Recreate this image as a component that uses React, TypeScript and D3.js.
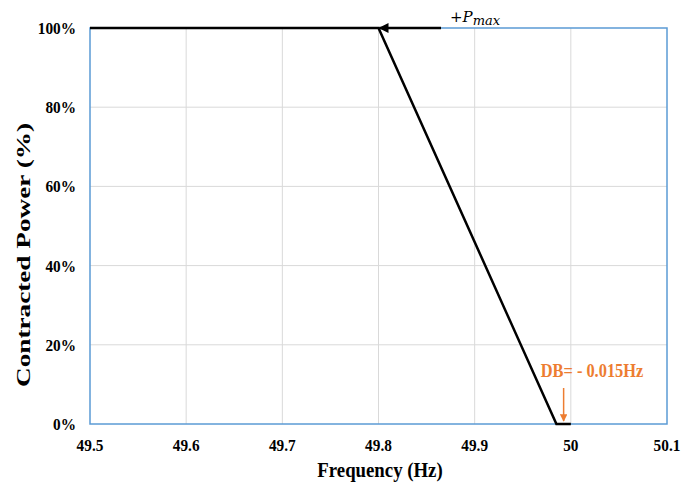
import React from "react";
import * as d3 from "d3";

const xTicks = [49.5, 49.6, 49.7, 49.8, 49.9, 50, 50.1];
const yTicks = [0, 20, 40, 60, 80, 100];
const freq = [49.5, 49.8, 49.985, 50];
const power = [100, 100, 0, 0];

const W = 684;
const H = 485;
const m = { left: 90, right: 667, top: 28, bottom: 424 };

export default function App() {
  const x = d3.scaleLinear().domain([49.5, 50.1]).range([m.left, m.right]);
  const y = d3.scaleLinear().domain([0, 100]).range([m.bottom, m.top]);
  const pts: [number, number][] = freq.map((f, i) => [f, power[i]]);
  const line = d3
    .line<[number, number]>()
    .x((d) => x(d[0]))
    .y((d) => y(d[1]));
  const font = "'Liberation Serif', 'Times New Roman', serif";
  const blue = "#5B9BD5";
  const orange = "#ED7D31";
  const dbX = x(49.9925);
  const sx = 0.9;
  return (
    <svg width={W} height={H} style={{ position: "absolute", left: 0, top: 0 }}>
      <defs>
        <marker id="ah" viewBox="0 0 10 10" refX="9" refY="5" markerWidth="5" markerHeight="4" orient="auto" markerUnits="strokeWidth">
          <path d="M0,0 L10,5 L0,10 z" fill="#000" />
        </marker>
        <marker id="ahO" viewBox="0 0 10 10" refX="9" refY="5" markerWidth="6" markerHeight="5" orient="auto" markerUnits="strokeWidth">
          <path d="M0,0 L10,5 L0,10 z" fill={orange} />
        </marker>
      </defs>
      <rect x={0} y={0} width={W} height={H} fill="#fff" />
      {xTicks.slice(1, -1).map((t) => (
        <line key={"gx" + t} x1={x(t)} x2={x(t)} y1={m.top} y2={m.bottom} stroke="#d9d9d9" strokeWidth={1} />
      ))}
      {yTicks.slice(1, -1).map((t) => (
        <line key={"gy" + t} x1={m.left} x2={m.right} y1={y(t)} y2={y(t)} stroke="#d9d9d9" strokeWidth={1} />
      ))}
      <rect x={m.left} y={m.top} width={m.right - m.left} height={m.bottom - m.top} fill="none" stroke={blue} strokeWidth={1.5} />
      <path d={line(pts) ?? ""} fill="none" stroke="#000" strokeWidth={2.5} strokeLinejoin="miter" />
      {yTicks.map((t) => (
        <text
          key={"yl" + t}
          transform={`translate(76,${y(t) + 6}) scale(${sx},1)`}
          textAnchor="end"
          fontFamily={font}
          fontWeight="bold"
          fontSize={17}
        >
          {t}%
        </text>
      ))}
      {xTicks.map((t) => (
        <text
          key={"xl" + t}
          transform={`translate(${x(t)},451) scale(${sx},1)`}
          textAnchor="middle"
          fontFamily={font}
          fontWeight="bold"
          fontSize={17}
        >
          {t}
        </text>
      ))}
      <text
        transform={`translate(380,477) scale(0.94,1)`}
        textAnchor="middle"
        fontFamily={font}
        fontWeight="bold"
        fontSize={20}
      >
        Frequency (Hz)
      </text>
      <text
        transform={`translate(30,255) rotate(-90)`}
        textAnchor="middle"
        fontFamily={font}
        fontWeight="bold"
        fontSize={19}
        textLength={264}
        lengthAdjust="spacingAndGlyphs"
      >
        Contracted Power (%)
      </text>
      <line x1={441} y1={y(100)} x2={x(49.8) + 1} y2={y(100)} stroke="#000" strokeWidth={2.5} markerEnd="url(#ah)" />
      <text x={450} y={22} fontFamily="'DejaVu Serif', serif" fontStyle="italic" fontSize={15}>
        +P
        <tspan fontSize={13} dy={3}>max</tspan>
      </text>
      <text
        transform={`translate(592,377) scale(0.91,1)`}
        textAnchor="middle"
        fontFamily={font}
        fontWeight="bold"
        fontSize={18}
        fill={orange}
      >
        DB= - 0.015Hz
      </text>
      <line x1={dbX} y1={388} x2={dbX} y2={421} stroke={orange} strokeWidth={1.5} markerEnd="url(#ahO)" />
    </svg>
  );
}
